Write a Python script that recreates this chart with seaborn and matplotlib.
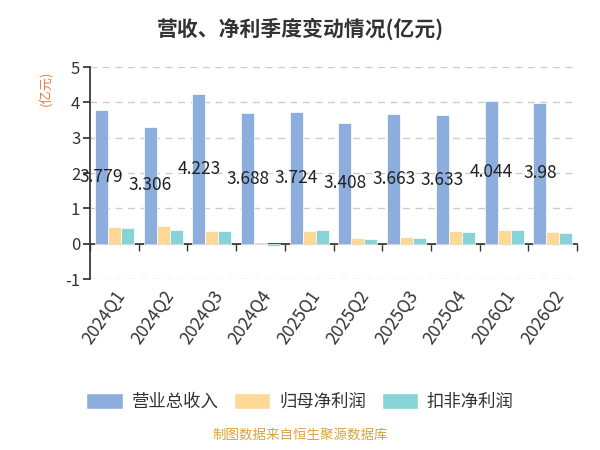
import pandas as pd
import numpy as np
import matplotlib
matplotlib.use('Agg')
import matplotlib.pyplot as plt
import seaborn as sns

# quarterly data (亿元)
quarters = ['2024Q1', '2024Q2', '2024Q3', '2024Q4', '2025Q1',
            '2025Q2', '2025Q3', '2025Q4', '2026Q1', '2026Q2']
revenue = [3.779, 3.306, 4.223, 3.688, 3.724, 3.408, 3.663, 3.633, 4.044, 3.98]
net_profit = [0.47, 0.49, 0.37, 0.02, 0.37, 0.15, 0.18, 0.35, 0.38, 0.32]
net_profit_ded = [0.45, 0.40, 0.36, -0.07, 0.38, 0.14, 0.17, 0.33, 0.38, 0.31]
series_names = ['营业总收入', '归母净利润', '扣非净利润']
colors = ['#8DADDC', '#FED897', '#86D4D8']

df = pd.DataFrame({
    'quarter': quarters * 3,
    'value': revenue + net_profit + net_profit_ded,
    'series': np.repeat(series_names, len(quarters)),
})

sns.set_theme(style='white')
plt.rcParams['font.family'] = ['Noto Sans CJK SC', 'DejaVu Sans']
plt.rcParams['axes.unicode_minus'] = False

fig = plt.figure(figsize=(6, 4.5), dpi=100)
ax = fig.add_axes([0.15, 0.38, 0.812, 0.471])

sns.barplot(data=df, x='quarter', y='value', hue='series', palette=colors,
            saturation=1, width=0.8, edgecolor='white', linewidth=0.5,
            errorbar=None, legend=False, ax=ax, zorder=3)

# labels for revenue bars, in the middle of each bar
ax.bar_label(ax.containers[0], labels=[f'{v:g}' for v in revenue],
             label_type='center', fontsize=12.5, color='#222222', zorder=5)

ax.set_ylim(-1, 5)
ax.set_xlim(-0.5, len(quarters) - 0.5)
ax.set_yticks(range(-1, 6))
ax.yaxis.grid(True, linestyle=(0, (5, 4)), color='#cccccc', linewidth=1)
ax.xaxis.grid(False)
ax.set_axisbelow(True)

for s in ['top', 'right']:
    ax.spines[s].set_visible(False)
ax.spines['left'].set_color('#333333')
ax.spines['bottom'].set_color('#333333')
ax.spines['bottom'].set_position(('data', 0))
ax.spines['bottom'].set_zorder(2.5)

ax.tick_params(axis='y', length=5, color='#333333', labelcolor='#333333',
               labelsize=12, left=True, pad=2)
ax.tick_params(axis='x', which='major', length=0, pad=31,
               labelcolor='#333333', labelsize=12.5)
ax.set_xticks(np.arange(-0.5, len(quarters)), minor=True)
ax.tick_params(axis='x', which='minor', length=5, color='#333333', bottom=True)
for lab in ax.get_xticklabels():
    lab.set_rotation(55)
    lab.set_ha('right')
    lab.set_rotation_mode('anchor')

ax.set_xlabel('')
ax.set_ylabel('')
fig.text(0.075, 0.805, '(亿元)', rotation=90, color='#EE7A3C', fontsize=9.5,
         ha='center', va='center')

fig.suptitle('营收、净利季度变动情况(亿元)', x=0.5, y=0.96, fontsize=15,
             fontweight='bold', color='#333333')

handles = [plt.Rectangle((0, 0), 1, 1, facecolor=c, edgecolor='white') for c in colors]
fig.legend(handles, series_names, loc='center', bbox_to_anchor=(0.5, 0.107),
           ncol=3, frameon=False, fontsize=12.5, handlelength=2.1,
           handleheight=1.1, handletextpad=0.5, columnspacing=0.9,
           labelcolor='#333333')

fig.text(0.5, 0.018, '制图数据来自恒生聚源数据库', ha='center', va='bottom',
         fontsize=9.7, color='#D9A441')

fig.savefig('out.png', dpi=100)
